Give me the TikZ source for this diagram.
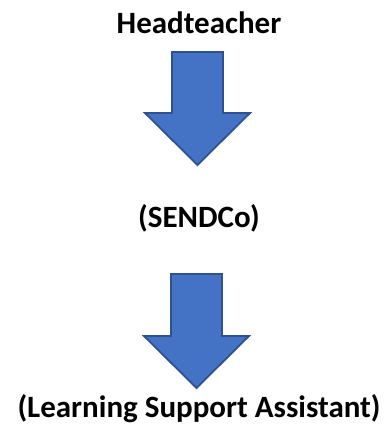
\documentclass[tikz,border=0pt]{standalone}
\usepackage{fontspec}
\setmainfont{Carlito}
\definecolor{arrowfill}{HTML}{4472C4}
\definecolor{arrowline}{HTML}{2F528F}
\tikzset{
  role/.style={font=\bfseries\fontsize{31}{36}\selectfont, inner sep=0pt, anchor=base},
  blockarrow/.style={fill=arrowfill, draw=arrowline, line width=1.8pt, line join=miter}
}

\begin{document}
\begin{tikzpicture}[x=1pt,y=-1pt]
    \useasboundingbox (0,0) rectangle (390,431);
    \node[role] (head) at (199,33) {Headteacher};
    \node[role] (sendco) at (199,227) {(SENDCo)};
    \node[role] (lsa) at (199,417) {(Learning Support Assistant)};
    % block arrows between the roles
    \coordinate (topA) at (197.5,52);
    \coordinate (topB) at (196.5,274);
    \draw[blockarrow] (topA) ++(-25.5,0) -- ++(51,0) -- ++(0,61) -- ++(27,0) -- ++(-52.5,52)
        -- ++(-52.5,-52) -- ++(27,0) -- cycle;
    \draw[blockarrow] (topB) ++(-25.5,0) -- ++(51,0) -- ++(0,62) -- ++(27,0) -- ++(-52.5,52)
        -- ++(-52.5,-52) -- ++(27,0) -- cycle;
\end{tikzpicture}
\end{document}
